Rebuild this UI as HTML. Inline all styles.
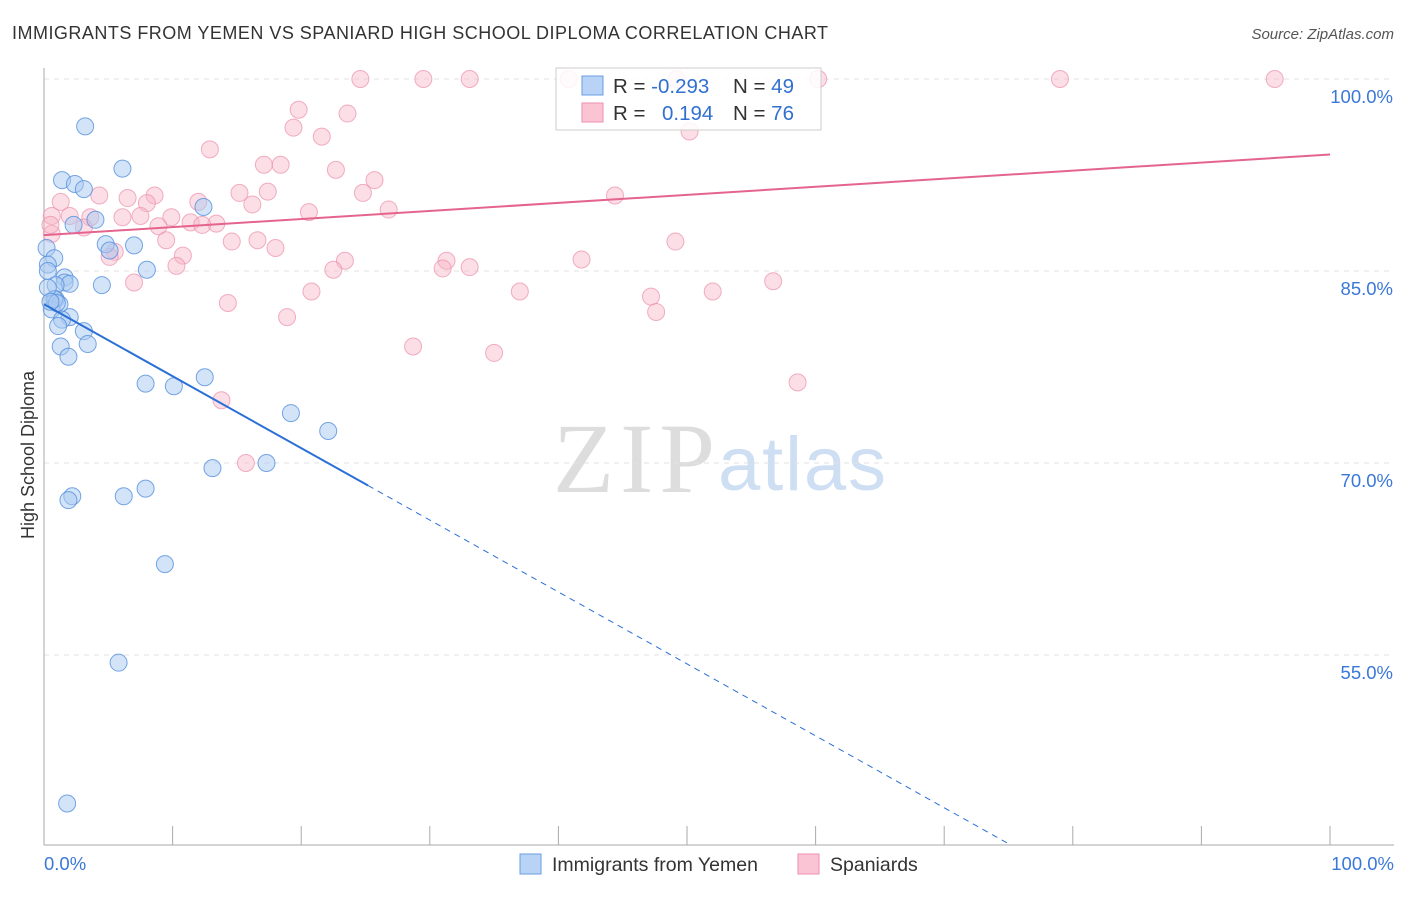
<!DOCTYPE html>
<html><head><meta charset="utf-8"><style>
body{margin:0;background:#fff;font-family:"Liberation Sans",sans-serif;}
svg text{font-family:"Liberation Sans",sans-serif;}
</style></head><body>
<svg id="chart" width="1406" height="892">
<text x="12" y="39" font-size="18" fill="#333" textLength="816">IMMIGRANTS FROM YEMEN VS SPANIARD HIGH SCHOOL DIPLOMA CORRELATION CHART</text>
<text x="1394" y="39" font-size="15" fill="#555" font-style="italic" text-anchor="end">Source: ZipAtlas.com</text>
<text x="0" y="0" transform="translate(34,455) rotate(-90)" font-size="18" fill="#333" text-anchor="middle">High School Diploma</text>
<text x="553" y="492" font-size="100" fill="#ddd" textLength="162" style="font-family:'Liberation Serif',serif">ZIP</text>
<text x="718" y="490" font-size="76" fill="#cfdff3" textLength="168">atlas</text>
<g id="grid"></g><g id="pts"></g><g id="trend"></g>
<g>
<rect x="556" y="68" width="265" height="62" fill="#fff" fill-opacity="0.85" stroke="#ccc"/>
<rect x="582" y="76" width="21" height="19" fill="#b8d3f5" stroke="#6a9de0"/>
<rect x="582" y="103" width="21" height="19" fill="#fac4d4" stroke="#ee8fac"/>
<text x="613" y="93" font-size="20.5" fill="#333">R = <tspan fill="#3070d0">-0.293</tspan></text>
<text x="733" y="93" font-size="20.5" fill="#333">N = <tspan fill="#3070d0">49</tspan></text>
<text x="613" y="120" font-size="20.5" fill="#333">R = <tspan fill="#3070d0" x="662">0.194</tspan></text>
<text x="733" y="120" font-size="20.5" fill="#333">N = <tspan fill="#3070d0">76</tspan></text>
</g>
<g>
<rect x="520" y="854" width="21" height="20" fill="#b8d3f5" stroke="#6a9de0"/>
<text x="552" y="871" font-size="19.5" fill="#333">Immigrants from Yemen</text>
<rect x="798" y="854" width="21" height="20" fill="#fac4d4" stroke="#ee8fac"/>
<text x="830" y="871" font-size="19.5" fill="#333">Spaniards</text>
</g>
</svg>
<script>
const yTicks=[100,85,70,55];
const yTickLabels=["100.0%","85.0%","70.0%","55.0%"];
const blueX=[3.2,6.1,1.4,2.4,3.1,12.4,4.0,2.3,4.8,7.0,5.1,0.2,0.8,0.3,0.3,8.0,1.6,1.6,2.0,0.9,4.5,0.9,1.2,0.6,2.0,1.4,1.1,3.1,3.4,1.3,1.9,12.5,7.9,10.1,19.2,22.1,13.1,17.3,2.2,1.9,6.2,7.9,9.4,5.8,1.8,0.8,1.0,0.3,0.5];
const blueY=[96.3,93.0,92.1,91.8,91.4,90.0,89.0,88.6,87.1,87.0,86.6,86.8,86.0,85.5,85.0,85.1,84.5,84.1,84.0,83.9,83.9,82.8,82.4,82.0,81.4,81.2,80.7,80.3,79.3,79.1,78.3,76.7,76.2,76.0,73.9,72.5,69.6,70.0,67.4,67.1,67.4,68.0,62.1,54.4,43.4,82.8,82.5,83.7,82.6];
const pinkX=[24.6,29.5,33.1,40.8,49.2,60.2,79.0,95.7,19.8,23.6,19.4,21.6,50.2,12.9,17.1,18.4,22.7,25.7,15.2,17.4,24.8,44.4,4.3,6.5,8.6,12.0,1.3,8.0,16.2,26.8,20.6,0.6,2.0,3.6,6.1,7.5,9.9,11.4,13.4,12.3,8.9,3.1,0.6,9.5,14.6,16.6,18.0,49.1,5.5,5.1,10.8,10.3,23.4,31.3,33.1,41.8,31.0,22.5,7.0,56.7,20.8,37.0,52.0,47.2,14.3,47.6,18.9,28.7,35.0,58.6,13.8,15.7,0.5];
const pinkY=[100,100,100,100,100,100,100,100,97.6,97.3,96.2,95.5,95.9,94.5,93.3,93.3,92.9,92.1,91.1,91.2,91.1,90.9,90.9,90.7,90.9,90.4,90.4,90.3,90.2,89.8,89.6,89.3,89.3,89.2,89.2,89.3,89.2,88.8,88.7,88.6,88.5,88.4,87.9,87.4,87.3,87.4,86.8,87.3,86.5,86.1,86.2,85.4,85.8,85.8,85.3,85.9,85.2,85.1,84.1,84.2,83.4,83.4,83.4,83.0,82.5,81.8,81.4,79.1,78.6,76.3,74.9,70.0,88.6];
const blueTrend=[0,82.4,75.1,40.2];
const pinkTrend=[0,87.8,100,94.1];
const X=v=>44+v*12.86, Y=v=>79+(100-v)*12.8;
const NS="http://www.w3.org/2000/svg";
function mk(t,a,p){const e=document.createElementNS(NS,t);for(const k in a)e.setAttribute(k,a[k]);p.appendChild(e);return e;}
const grid=document.getElementById('grid');
yTicks.forEach((t,i)=>{
 const l=mk('line',{x1:44,x2:1394,y1:Y(t),y2:Y(t),stroke:'#e2e2e2','stroke-dasharray':'5,5'},grid);
 
 
 const tx=mk('text',{x:1393,y:Y(t)+24,'font-size':18.5,fill:'#3a78d8','text-anchor':'end'},grid);
 tx.textContent=yTickLabels[i];
 
 
});
const ax=mk('line',{x1:44,x2:44,y1:68,y2:845,stroke:'#aaa'},grid);


const bx=mk('line',{x1:44,x2:1394,y1:845,y2:845,stroke:'#aaa'},grid);


for(let i=0;i<=10;i++){const tk=mk('line',{x1:X(i*10),x2:X(i*10),y1:826,y2:845,stroke:'#aaa'},grid);
 
 }
[["0.0%",44,'start'],["100.0%",1394,'end']].forEach(a=>{const t=mk('text',{x:a[1],y:870,'font-size':18.5,fill:'#3a78d8','text-anchor':a[2]},grid);t.textContent=a[0];
 
 });
const pts=document.getElementById('pts');
pinkX.forEach((x,i)=>{const c=mk('circle',{cx:X(x),cy:Y(pinkY[i]),r:8.5,fill:'#f6b5c8','fill-opacity':0.45,stroke:'#ec8fab','stroke-opacity':0.7},pts);
 
 });
blueX.forEach((x,i)=>{const c=mk('circle',{cx:X(x),cy:Y(blueY[i]),r:8.5,fill:'#a9c9f2','fill-opacity':0.5,stroke:'#5590dd','stroke-opacity':0.8},pts);
 
 });
const tr=document.getElementById('trend');
const by=x=>blueTrend[1]+(blueTrend[3]-blueTrend[1])*(x-blueTrend[0])/(blueTrend[2]-blueTrend[0]);
const b1=mk('line',{x1:X(blueTrend[0]),y1:Y(by(blueTrend[0])),x2:X(25.2),y2:Y(by(25.2)),stroke:'#2a6fd6','stroke-width':2},tr);


const b2=mk('line',{x1:X(25.2),y1:Y(by(25.2)),x2:X(blueTrend[2]),y2:Y(blueTrend[3]),stroke:'#2a6fd6','stroke-width':1,'stroke-dasharray':'6,5'},tr);


const p1=mk('line',{x1:X(pinkTrend[0]),y1:Y(pinkTrend[1]),x2:X(pinkTrend[2]),y2:Y(pinkTrend[3]),stroke:'#e4648e','stroke-width':2},tr);


</script>
</body></html>
